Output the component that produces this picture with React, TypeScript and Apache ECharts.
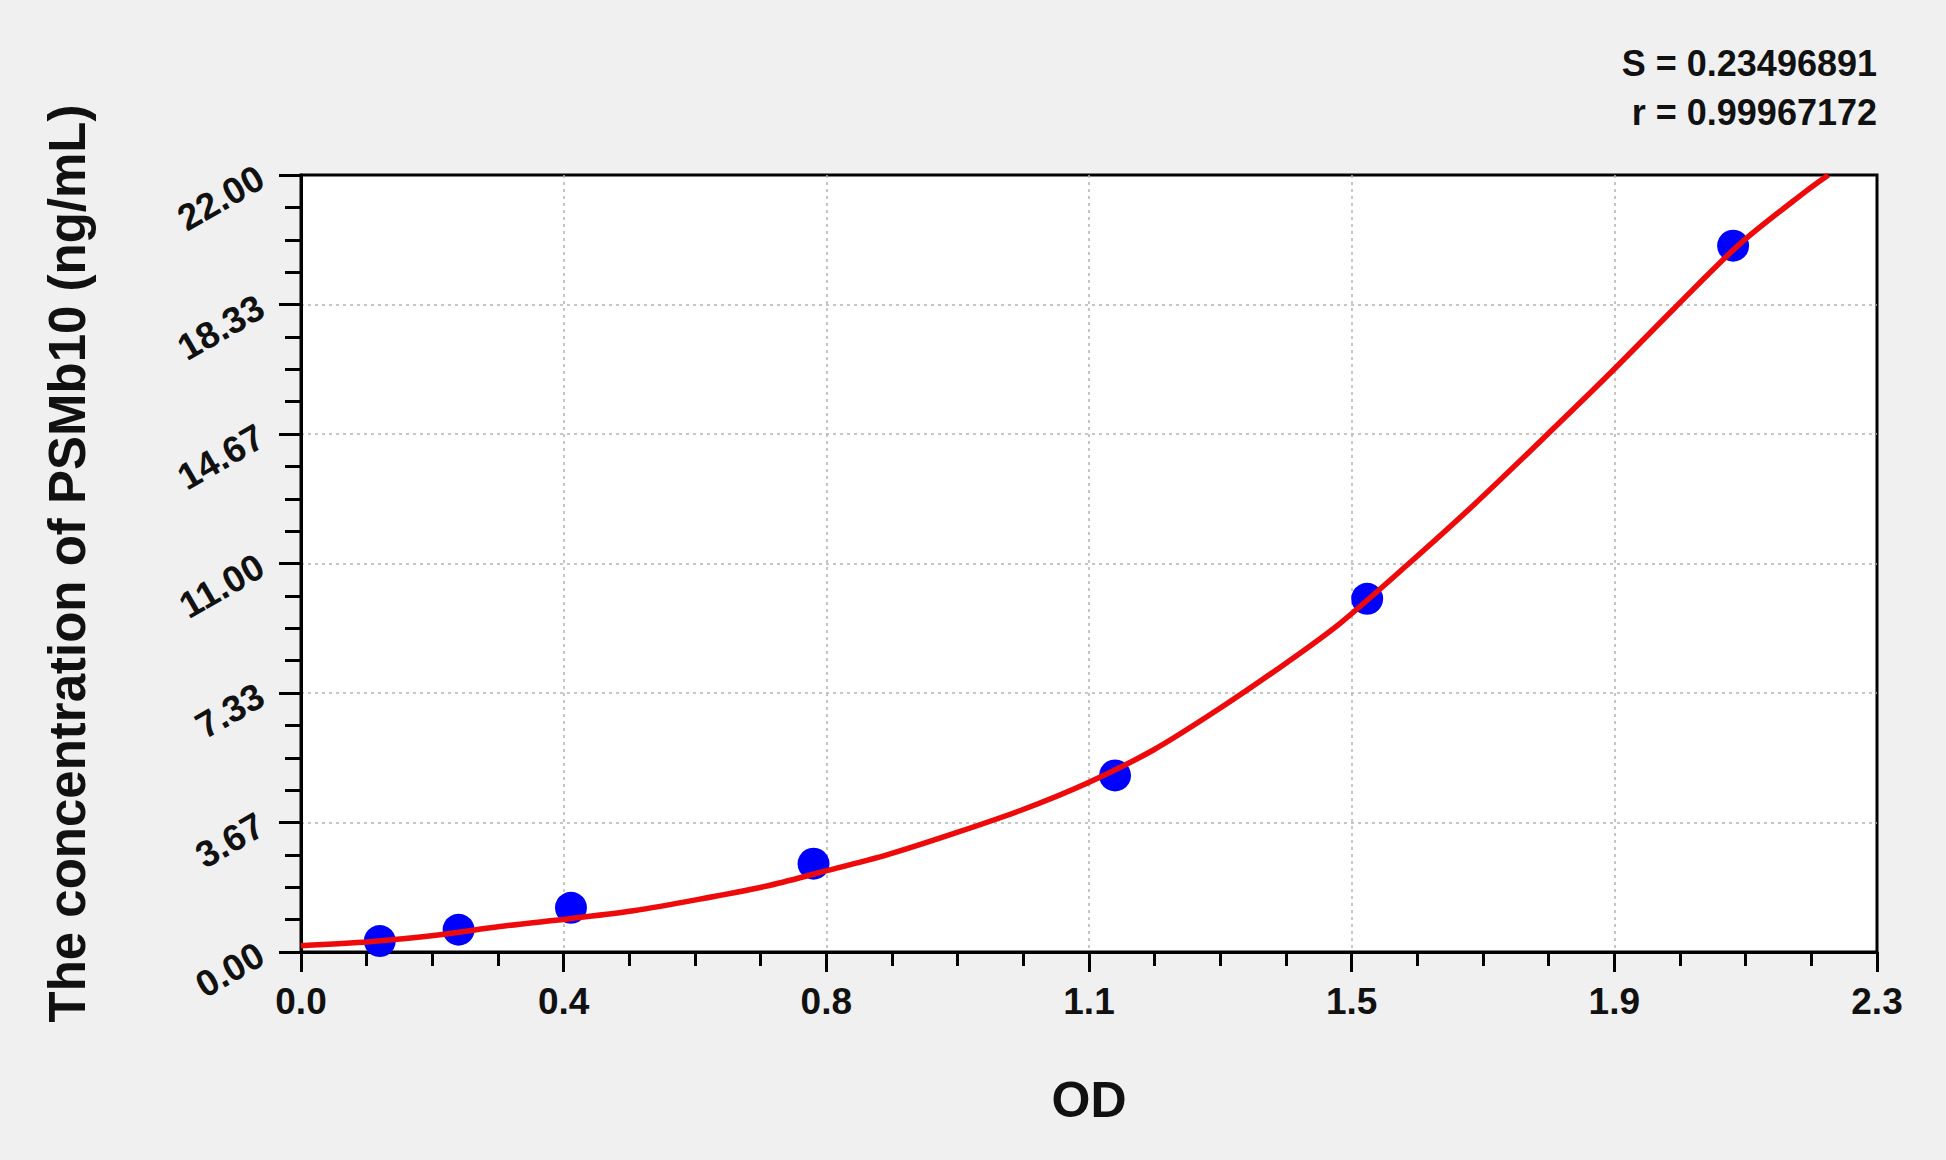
import React, { useEffect, useRef } from "react";
import * as echarts from "echarts";

// standard points (OD vs concentration)
const odValues = [0.115, 0.23, 0.394, 0.748, 1.188, 1.556, 2.09];
const concValues = [0.31, 0.63, 1.25, 2.5, 5, 10, 20];

// fitted curve
const curveOd = [
  0, 0.1, 0.2, 0.29, 0.394, 0.485, 0.58, 0.68, 0.757, 0.855, 0.952, 1.049,
  1.147, 1.244, 1.341, 1.439, 1.516, 1.614, 1.711, 1.808, 1.906, 2.003, 2.1,
  2.197, 2.229,
];
const curveConc = [
  0.18, 0.29, 0.48, 0.72, 0.95, 1.17, 1.49, 1.87, 2.25, 2.75, 3.35, 4.0,
  4.78, 5.72, 6.9, 8.2, 9.3, 10.95, 12.65, 14.45, 16.3, 18.2, 20.05, 21.55,
  22.0,
];

const xTickLabels = ["0.0", "0.4", "0.8", "1.1", "1.5", "1.9", "2.3"];
const yTickLabels = ["0.00", "3.67", "7.33", "11.00", "14.67", "18.33", "22.00"];

const statLines = ["S = 0.23496891", "r = 0.99967172"];

const X_MAX = 2.3;
const Y_MAX = 22;
const X_STEP = X_MAX / 6;
const Y_STEP = Y_MAX / 6;

const FONT = "'Liberation Sans', Arial, sans-serif";

const App: React.FC = () => {
  const chartRef = useRef<HTMLDivElement | null>(null);

  useEffect(() => {
    if (!chartRef.current) return;
    const chart = echarts.init(chartRef.current, null, { renderer: "svg" });

    const statStyle = {
      fontFamily: FONT,
      fontWeight: "bold",
      fontSize: 36,
      fill: "#111",
    };

    const option = {
      animation: false,
      backgroundColor: "#f0f0f0",
      grid: {
        left: 301,
        right: 69,
        top: 175,
        bottom: 208,
        show: true,
        backgroundColor: "#ffffff",
        borderColor: "#000000",
        borderWidth: 3,
        containLabel: false,
      },
      graphic: [
        { type: "text", right: 69, top: 45, style: { ...statStyle, text: statLines[0] } },
        { type: "text", right: 69, top: 94, style: { ...statStyle, text: statLines[1] } },
      ],
      xAxis: {
        type: "value",
        min: 0,
        max: X_MAX,
        interval: X_STEP,
        name: "OD",
        nameLocation: "middle",
        nameGap: 123,
        nameTextStyle: {
          fontFamily: FONT,
          fontWeight: "bold",
          fontSize: 50,
          color: "#111",
        },
        axisLine: { show: true, lineStyle: { color: "#000", width: 3 } },
        axisTick: { show: true, length: 20, lineStyle: { color: "#000", width: 3 } },
        minorTick: {
          show: true,
          splitNumber: 4,
          length: 14,
          lineStyle: { color: "#000", width: 3 },
        },
        axisLabel: {
          margin: 31,
          fontFamily: FONT,
          fontWeight: "bold",
          fontSize: 37,
          color: "#111",
          formatter: (v: number) => xTickLabels[Math.round(v / X_STEP)] ?? "",
        },
        splitLine: {
          show: true,
          showMinLine: false,
          showMaxLine: false,
          lineStyle: { color: "#b4b4b4", width: 1.5, type: [3, 4] },
        },
      },
      yAxis: {
        type: "value",
        min: 0,
        max: Y_MAX,
        interval: Y_STEP,
        name: "The concentration of PSMb10 (ng/mL)",
        nameLocation: "middle",
        nameGap: 208,
        nameTextStyle: {
          fontFamily: FONT,
          fontWeight: "bold",
          fontSize: 51,
          color: "#111",
        },
        axisLine: { show: true, lineStyle: { color: "#000", width: 3 } },
        axisTick: { show: true, length: 22, lineStyle: { color: "#000", width: 3 } },
        minorTick: {
          show: true,
          splitNumber: 4,
          length: 16,
          lineStyle: { color: "#000", width: 3 },
        },
        axisLabel: {
          margin: 40,
          rotate: 30,
          fontFamily: FONT,
          fontWeight: "bold",
          fontSize: 37,
          color: "#111",
          formatter: (v: number) => yTickLabels[Math.round(v / Y_STEP)] ?? "",
        },
        splitLine: {
          show: true,
          showMinLine: false,
          showMaxLine: false,
          lineStyle: { color: "#b4b4b4", width: 1.5, type: [3, 4] },
        },
      },
      series: [
        {
          name: "Standards",
          type: "scatter",
          symbol: "circle",
          symbolSize: 32,
          itemStyle: { color: "#0000ff", opacity: 1 },
          data: odValues.map((x, i) => [x, concValues[i]]),
          z: 2,
        },
        {
          name: "Fit",
          type: "line",
          showSymbol: false,
          smooth: 0.3,
          clip: true,
          lineStyle: { color: "#ee0a0a", width: 5.5 },
          data: curveOd.map((x, i) => [x, curveConc[i]]),
          z: 3,
        },
      ],
    };

    chart.setOption(option);

    const handleResize = () => chart.resize();
    window.addEventListener("resize", handleResize);
    return () => {
      window.removeEventListener("resize", handleResize);
      chart.dispose();
    };
  }, []);

  return (
    <div
      ref={chartRef}
      style={{
        position: "fixed",
        left: 0,
        top: 0,
        width: "100vw",
        height: "100vh",
        background: "#f0f0f0",
      }}
    />
  );
};

export default App;
